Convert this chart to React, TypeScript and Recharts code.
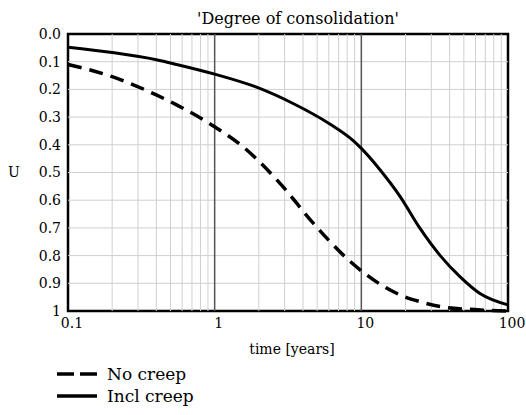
import React from "react";
import {
  LineChart, Line, XAxis, YAxis, ReferenceLine, ReferenceArea, Legend,
} from "recharts";

// U, time in years (log axis)
const noCreepT = [0.1, 0.2, 0.4, 0.55, 1, 1.56, 2.8, 4.7, 7.96, 13.4, 18.4, 25, 34.5, 59, 100];
const noCreepU = [0.11, 0.154, 0.22, 0.256, 0.335, 0.407, 0.54, 0.683, 0.81, 0.903, 0.942, 0.966, 0.984, 0.995, 1.0];

const inclCreepT = [0.1, 0.2, 0.4, 0.55, 1, 1.93, 3.4, 6.1, 8.8, 10, 13.4, 18.4, 25, 34.5, 47, 64, 100];
const inclCreepU = [0.048, 0.067, 0.093, 0.11, 0.145, 0.192, 0.25, 0.325, 0.385, 0.413, 0.49, 0.587, 0.7, 0.8, 0.876, 0.936, 0.978];

const legendOrder = ["No creep", "Incl creep"];

const xTicks = [0.1, 1, 10, 100];
const yTicks = [0, 0.1, 0.2, 0.3, 0.4, 0.5, 0.6, 0.7, 0.8, 0.9, 1];
const minorX = [0.2, 0.3, 0.4, 0.5, 0.6, 0.7, 0.8, 0.9, 2, 3, 4, 5, 6, 7, 8, 9, 20, 30, 40, 50, 60, 70, 80, 90];
const majorX = [1, 10];
const gridY = [0.1, 0.2, 0.3, 0.4, 0.5, 0.6, 0.7, 0.8, 0.9];

const noCreep = noCreepT.map((t, i) => ({ t, u: noCreepU[i] }));
const inclCreep = inclCreepT.map((t, i) => ({ t, u: inclCreepU[i] }));

const FONT = "'DejaVu Serif', 'Liberation Serif', serif";

const fmtY = (v: number) => (v === 0 ? "0.0" : v === 1 ? "1" : v.toFixed(1));

function LegendBox({ payload }: any) {
  const items = [...(payload || [])].sort(
    (a: any, b: any) => legendOrder.indexOf(a.value) - legendOrder.indexOf(b.value)
  );
  return (
    <div style={{ fontSize: 17, lineHeight: "22px", color: "#000", fontFamily: FONT }}>
      {items.map((p: any) => (
        <div key={p.value} style={{ display: "flex", alignItems: "center" }}>
          <svg width={44} height={10} style={{ marginRight: 8 }}>
            <line
              x1={2} y1={5} x2={42} y2={5}
              stroke="#000" strokeWidth={3.5}
              strokeDasharray={p.payload?.strokeDasharray ? "17 6" : undefined}
            />
          </svg>
          <span>{p.value}</span>
        </div>
      ))}
    </div>
  );
}

export default function App() {
  return (
    <div
      style={{
        position: "absolute", left: 0, top: 0, width: 526, height: 415,
        background: "#fff", fontFamily: FONT,
      }}
    >
      <div
        style={{
          position: "absolute", left: 123, top: 10, width: 350,
          textAlign: "center", fontSize: 16, lineHeight: "18px", color: "#000",
          fontFamily: FONT,
        }}
      >
        'Degree of consolidation'
      </div>
      <LineChart
        width={526}
        height={415}
        margin={{ top: 34, right: 18, bottom: 0, left: 0 }}
        style={{ fontFamily: FONT }}
      >
        <XAxis
          dataKey="t"
          type="number"
          scale="log"
          domain={[0.1, 100]}
          ticks={xTicks}
          tickFormatter={(v) => String(v)}
          height={104}
          axisLine={false}
          tickLine={false}
          tickSize={0}
          tickMargin={7}
          tick={{ fill: "#000", fontSize: 14, dx: 4, fontFamily: FONT }}
          label={{ value: "time [years]", position: "insideTop", offset: 33, dx: 4, fill: "#000", fontSize: 14, fontFamily: FONT }}
        />
        <YAxis
          type="number"
          domain={[0, 1]}
          reversed
          ticks={yTicks}
          tickFormatter={fmtY}
          width={68}
          axisLine={false}
          tickLine={false}
          tickSize={0}
          tickMargin={7}
          tick={{ fill: "#000", fontSize: 14, fontFamily: FONT }}
          label={{ value: "U", position: "insideLeft", offset: 8, fill: "#000", fontSize: 14, fontFamily: FONT }}
        />
        {minorX.map((x) => (
          <ReferenceLine key={"mx" + x} x={x} stroke="#cfcfcf" strokeWidth={1} />
        ))}
        {gridY.map((y) => (
          <ReferenceLine key={"gy" + y} y={y} stroke="#cfcfcf" strokeWidth={1} />
        ))}
        {majorX.map((x) => (
          <ReferenceLine key={"MX" + x} x={x} stroke="#555" strokeWidth={1.5} />
        ))}
        <ReferenceArea x1={0.1} x2={100} y1={0} y2={1} fill="none" stroke="#000" strokeWidth={2.5} />
        <Line
          data={noCreep}
          dataKey="u"
          name="No creep"
          type="monotone"
          stroke="#000"
          strokeWidth={3.5}
          strokeDasharray="14 8"
          dot={false}
          isAnimationActive={false}
        />
        <Line
          data={inclCreep}
          dataKey="u"
          name="Incl creep"
          type="monotone"
          stroke="#000"
          strokeWidth={3}
          dot={false}
          isAnimationActive={false}
        />
        <Legend
          layout="vertical"
          align="center"
          verticalAlign="middle"
          content={<LegendBox />}
          wrapperStyle={{ position: "absolute", left: 55, top: 363, width: 220, height: 46 }}
        />
      </LineChart>
    </div>
  );
}
